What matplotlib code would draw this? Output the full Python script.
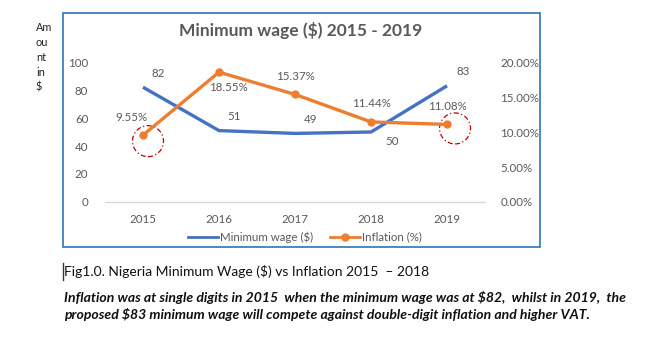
import matplotlib.pyplot as plt
import matplotlib.patches as mpatches
from matplotlib.transforms import ScaledTranslation
from matplotlib.lines import Line2D
import numpy as np

plt.rcParams['font.family'] = ['Lato', 'DejaVu Sans']

years = ['2015', '2016', '2017', '2018', '2019']
wage = [82, 51, 49, 50, 83]
inflation = [9.55, 18.55, 15.37, 11.44, 11.08]
wage_ticks = [0, 20, 40, 60, 80, 100]
infl_ticks = [0, 5, 10, 15, 20]

blue = '#4472C4'
orange = '#ED7D31'
gray = '#595959'

fig = plt.figure(figsize=(6.53, 3.37), dpi=100)

# chart frame
fig.patches.append(mpatches.Rectangle((0.0965, 0.267), 0.7305, 0.694, transform=fig.transFigure,
                                      fill=False, edgecolor='#2E75B6', linewidth=1.2))

ax = fig.add_axes([0.1608, 0.4006, 0.582, 0.4154])
ax2 = ax.twinx()
x = np.arange(len(years))

ax.plot(x, wage, color=blue, lw=2.4, solid_capstyle='butt')
ax2.plot(x, inflation, color=orange, lw=2.4, marker='o', markersize=5)

ax.set_xlim(-0.5, len(years) - 0.5)
ax.set_ylim(0, 100)
ax2.set_ylim(0, 20)
ax.set_yticks(wage_ticks)
ax2.set_yticks(infl_ticks)
ax2.set_yticklabels([f'{t:.2f}%' for t in infl_ticks])
ax.set_xticks(x)
ax.set_xticklabels(years)
for a in (ax, ax2):
    for s in a.spines.values():
        s.set_visible(False)
    a.tick_params(length=0, colors=gray, labelsize=8.3)
ax.tick_params(axis='y', pad=12)
ax2.tick_params(axis='y', pad=11)
ax.tick_params(axis='x', pad=9)
ax.axhline(0, color='#D9D9D9', lw=1, clip_on=False)

# data labels
wage_off = [(6, 6), (6, 6), (6, 6), (10, -7), (7, 6)]
for i, v in enumerate(wage):
    ax.annotate(str(v), (x[i], v), xytext=wage_off[i], textcoords='offset points',
                ha='left', va='bottom' if wage_off[i][1] > 0 else 'center',
                fontsize=8.3, color=gray)
infl_off = [(-8, 9), (7, -15), (0, 9), (0, 9), (0, 9)]
for i, v in enumerate(inflation):
    ax2.annotate(f'{v:.2f}%', (x[i], v), xytext=infl_off[i], textcoords='offset points',
                 ha='center', va='bottom', fontsize=8.3, color=gray)

# dashed circles around 2015 and 2019 inflation
for i, dx, dy in [(0, 0.05, -0.06), (4, 0.08, -0.04)]:
    tr = fig.dpi_scale_trans + ScaledTranslation(x[i], inflation[i], ax2.transData)
    ax2.add_patch(mpatches.Circle((dx, dy), 0.155, transform=tr, fill=False, edgecolor='#C00000',
                                  linestyle=(0, (4, 2, 1, 2)), lw=0.9, clip_on=False))

fig.text(0.46, 0.91, 'Minimum wage ($) 2015 - 2019', ha='center', va='center',
         fontsize=12.5, fontweight='bold', color=gray)
fig.text(0.055, 0.83, 'Am\nou\nnt\nin\n$', ha='left', va='center', fontsize=7.8,
         color='#222222', linespacing=1.45)

handles = [Line2D([], [], color=blue, lw=2),
           Line2D([], [], color=orange, lw=2, marker='o', markersize=5)]
fig.legend(handles, ['Minimum wage ($)', 'Inflation (%)'], loc='center', bbox_to_anchor=(0.467, 0.297),
           ncol=2, frameon=False, fontsize=8.3, handlelength=2.6, handletextpad=0.2, columnspacing=1.4,
           labelcolor=gray, borderpad=0.1)

fig.text(0.098, 0.195, 'Fig1.0. Nigeria Minimum Wage ($) vs Inflation 2015  – 2018', fontsize=10,
         color='#111111', va='center')
fig.lines.append(Line2D([0.097, 0.097], [0.17, 0.22], transform=fig.transFigure, color='#1F3864', lw=1))
fig.text(0.098, 0.118, 'Inflation was at single digits in 2015  when the minimum wage was at $82,  whilst in 2019,  the',
         fontsize=10.1, fontweight='bold', fontstyle='italic', color='#111111', va='center')
fig.text(0.098, 0.068, 'proposed $83 minimum wage will compete against double-digit inflation and higher VAT.',
         fontsize=10.1, fontweight='bold', fontstyle='italic', color='#111111', va='center')

fig.savefig('out.png', dpi=100)
